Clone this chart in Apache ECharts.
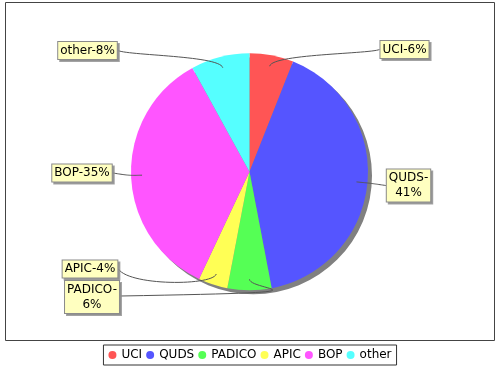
<!DOCTYPE html>
<html><head><meta charset="utf-8">
<script src="https://cdn.jsdelivr.net/npm/echarts@6/dist/echarts.min.js"></script>
<style>html,body{margin:0;padding:0;background:#fff}#c{width:500px;height:370px}</style>
</head><body><div id="c"></div>
<script>
const categories = ['UCI', 'QUDS', 'PADICO', 'APIC', 'BOP', 'other'];
const values = [6, 41, 6, 4, 35, 8];
const colors = ['#FF5555', '#5555FF', '#55FF55', '#FFFF55', '#FF55FF', '#55FFFF'];
const wrapped = ['QUDS', 'PADICO'];

// layout (not data): pie geometry and label box centres
const CX = 249.5, CY = 171.8, R = 118.5;
const LINK_R = 107.5, ELBOW_R = 120;
const labelPos = [[404.5, 49.5], [408.5, 185.5], [92, 297], [90, 269], [82, 173], [87.5, 50.5]];

const total = values.reduce((a, b) => a + b, 0);
const midAngles = [];
(function () { let cum = 0; values.forEach(v => { midAngles.push((cum + v / 2) / total * 2 * Math.PI); cum += v; }); })();

function bez(p0, p1, p2, p3, t) {
  const u = 1 - t;
  return [
    u*u*u*p0[0] + 3*u*u*t*p1[0] + 3*u*t*t*p2[0] + t*t*t*p3[0],
    u*u*u*p0[1] + 3*u*u*t*p1[1] + 3*u*t*t*p2[1] + t*t*t*p3[1]
  ];
}

const chart = echarts.init(document.getElementById('c'), null, { renderer: 'canvas' });
const FONT = 'DejaVu Sans';
chart.setOption({
  animation: false,
  backgroundColor: '#ffffff',
  textStyle: { fontFamily: FONT },
  graphic: [{
    type: 'rect', silent: true, z: -10,
    shape: { x: 5.5, y: 2.5, width: 489, height: 338 },
    style: { fill: '#ffffff', stroke: '#444444', lineWidth: 1 }
  }],
  legend: {
    data: categories,
    top: 345, left: 'center',
    icon: 'circle', itemWidth: 8, itemHeight: 8, itemGap: 4,
    padding: [4, 5], borderColor: '#333', borderWidth: 1, backgroundColor: '#fff',
    textStyle: { fontFamily: FONT, fontSize: 12, color: '#000' }
  },
  series: [
    {
      type: 'pie', silent: true, z: 1,
      center: [CX + 4, CY + 4], radius: R,
      label: { show: false }, labelLine: { show: false },
      data: [{ value: 1, name: '', itemStyle: { color: '#808080' } }]
    },
    {
      type: 'pie', z: 2,
      center: [CX, CY], radius: R,
      startAngle: 90, clockwise: true,
      itemStyle: { borderWidth: 0 },
      emphasis: { disabled: true },
      label: { show: false }, labelLine: { show: false },
      data: categories.map((c, i) => ({ name: c, value: values[i], itemStyle: { color: colors[i] } }))
    },
    {
      type: 'pie', z: 3, silent: true,
      center: [CX, CY], radius: R,
      startAngle: 90, clockwise: true,
      avoidLabelOverlap: false,
      itemStyle: { borderWidth: 0, color: 'rgba(0,0,0,0)' },
      emphasis: { disabled: true },
      data: categories.map((c, i) => ({ name: c, value: values[i] })),
      label: {
        show: true, position: 'outer',
        formatter: p => p.name + '-' + (wrapped.indexOf(p.name) >= 0 ? '\n' : '') + Math.round(p.percent) + '%',
        fontFamily: FONT, fontSize: 12, color: '#000', lineHeight: 15, align: 'center',
        backgroundColor: '#FFFFC0', borderColor: '#8a8a8a', borderWidth: 1,
        padding: [1, 2],
        shadowColor: 'rgba(140,140,140,0.8)', shadowOffsetX: 2, shadowOffsetY: 2, shadowBlur: 0
      },
      labelLine: { show: true, smooth: false, lineStyle: { color: '#555', width: 1 } },
      labelLayout: function (p) {
        const i = p.dataIndex;
        const pos = labelPos[i];
        const w = p.labelRect.width;
        const a = midAngles[i];
        const dx = Math.sin(a), dy = -Math.cos(a);
        const right = dx > 0;
        const link = [CX + dx * LINK_R, CY + dy * LINK_R];
        const elbow = [CX + dx * ELBOW_R, CY + dy * ELBOW_R];
        const anchor = [CX + (right ? ELBOW_R : -ELBOW_R), elbow[1]];
        const target = [right ? pos[0] - w / 2 : pos[0] + w / 2, pos[1]];
        const pts = [];
        for (let k = 0; k <= 30; k++) pts.push(bez(target, anchor, elbow, link, k / 30));
        return { x: pos[0], y: pos[1], align: 'center', verticalAlign: 'middle', labelLinePoints: pts, hideOverlap: false, moveOverlap: false };
      }
    }
  ]
});
</script></body></html>
